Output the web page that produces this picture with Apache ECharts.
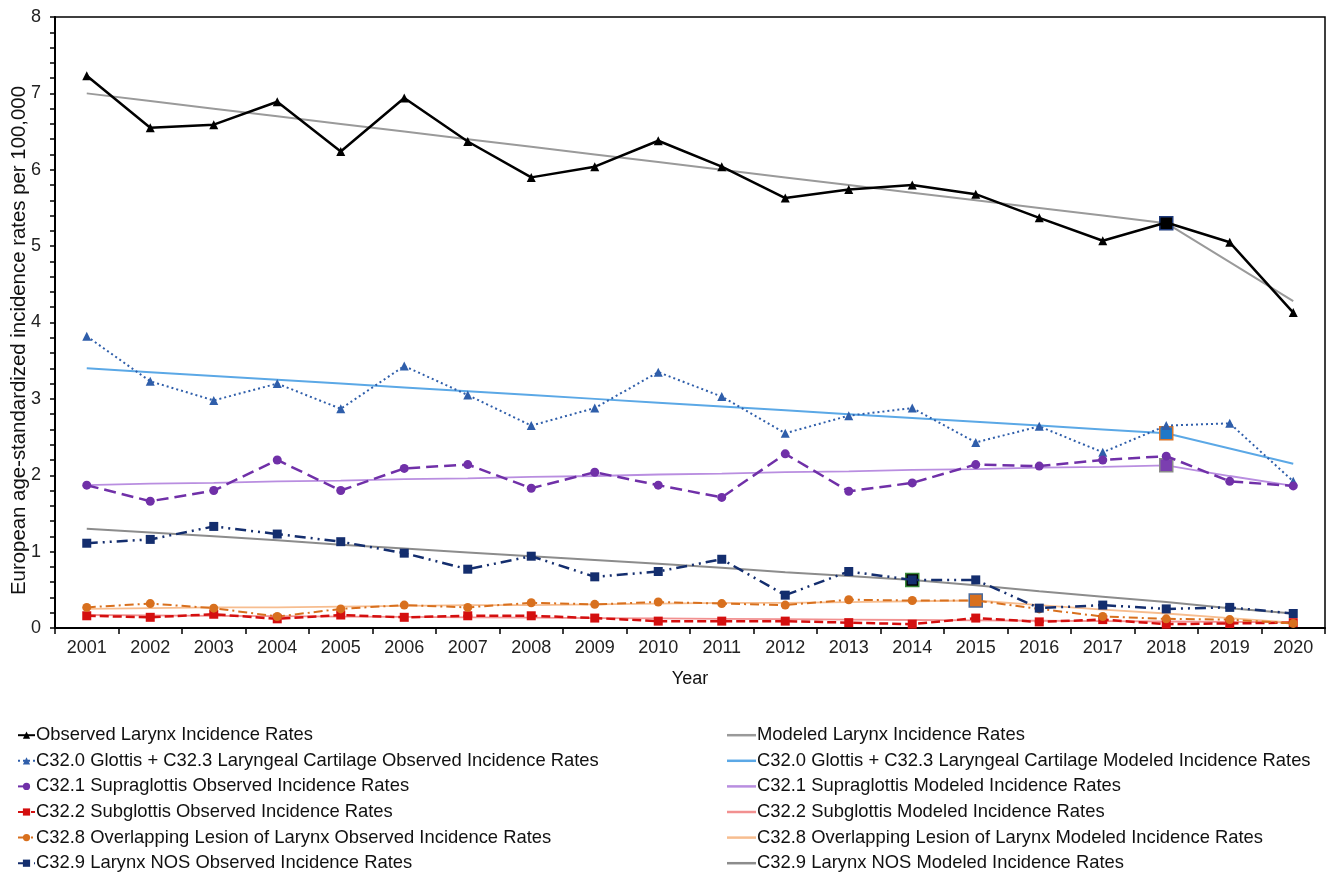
<!DOCTYPE html>
<html lang="en">
<head>
  <meta charset="UTF-8">
  <title>Larynx Incidence Rates</title>
  <script src="https://cdn.jsdelivr.net/npm/echarts@6.0.0/dist/echarts.min.js"></script>
  <style>
    html, body { margin: 0; padding: 0; background: #fff; }
    #chart { width: 1331px; height: 881px; }
  </style>
</head>
<body>
  <div id="chart"></div>
  <script>
    // categories
    var years = ['2001','2002','2003','2004','2005','2006','2007','2008','2009','2010',
                 '2011','2012','2013','2014','2015','2016','2017','2018','2019','2020'];

    // observed rates
    var larynxObs   = [7.23, 6.55, 6.59, 6.89, 6.24, 6.94, 6.37, 5.90, 6.04, 6.38, 6.04, 5.63, 5.74, 5.80, 5.68, 5.37, 5.07, 5.31, 5.05, 4.13];
    var glottisObs  = [3.82, 3.23, 2.98, 3.20, 2.87, 3.43, 3.05, 2.65, 2.88, 3.35, 3.03, 2.55, 2.78, 2.88, 2.43, 2.64, 2.30, 2.65, 2.68, 1.92];
    var supraObs    = [1.87, 1.66, 1.80, 2.20, 1.80, 2.09, 2.14, 1.83, 2.04, 1.87, 1.71, 2.28, 1.79, 1.90, 2.14, 2.12, 2.20, 2.25, 1.92, 1.86];
    var subObs      = [0.16, 0.14, 0.18, 0.12, 0.17, 0.14, 0.16, 0.16, 0.13, 0.09, 0.09, 0.09, 0.07, 0.05, 0.13, 0.08, 0.11, 0.05, 0.06, 0.07];
    var overlapObs  = [0.27, 0.32, 0.26, 0.15, 0.25, 0.30, 0.27, 0.33, 0.31, 0.34, 0.32, 0.30, 0.37, 0.36, 0.36, 0.25, 0.15, 0.12, 0.11, 0.06];
    var nosObs      = [1.11, 1.16, 1.33, 1.23, 1.13, 0.98, 0.77, 0.94, 0.67, 0.74, 0.90, 0.43, 0.74, 0.63, 0.63, 0.26, 0.30, 0.25, 0.27, 0.19];

    // modeled (joinpoint) rates
    var larynxMod   = [7.00, 6.90, 6.80, 6.70, 6.60, 6.50, 6.40, 6.30, 6.20, 6.10, 6.00, 5.90, 5.80, 5.70, 5.60, 5.50, 5.40, 5.30, 4.79, 4.28];
    var glottisMod  = [3.40, 3.35, 3.30, 3.25, 3.20, 3.15, 3.10, 3.05, 3.00, 2.95, 2.90, 2.85, 2.80, 2.75, 2.70, 2.65, 2.60, 2.55, 2.35, 2.15];
    var supraMod    = [1.87, 1.89, 1.90, 1.92, 1.93, 1.95, 1.96, 1.98, 1.99, 2.01, 2.02, 2.04, 2.05, 2.07, 2.08, 2.10, 2.11, 2.13, 1.99, 1.86];
    var subMod      = [0.17, 0.165, 0.16, 0.155, 0.15, 0.145, 0.14, 0.135, 0.13, 0.125, 0.12, 0.115, 0.11, 0.105, 0.10, 0.095, 0.09, 0.085, 0.08, 0.075];
    var overlapMod  = [0.25, 0.26, 0.27, 0.27, 0.28, 0.29, 0.30, 0.30, 0.31, 0.32, 0.33, 0.33, 0.34, 0.35, 0.36, 0.30, 0.24, 0.19, 0.13, 0.07];
    var nosMod      = [1.30, 1.25, 1.20, 1.15, 1.09, 1.04, 0.99, 0.94, 0.89, 0.84, 0.79, 0.73, 0.68, 0.63, 0.56, 0.48, 0.41, 0.34, 0.26, 0.19];

    // joinpoint years (marked with a square on the modeled line)
    var larynxJoin  = ['2018'];
    var glottisJoin = ['2018'];
    var supraJoin   = ['2018'];
    var overlapJoin = ['2015'];
    var nosJoin     = ['2014'];

    var obsNames = [
      'Observed Larynx Incidence Rates',
      'C32.0 Glottis + C32.3 Laryngeal Cartilage Observed Incidence Rates',
      'C32.1 Supraglottis Observed Incidence Rates',
      'C32.2 Subglottis Observed Incidence Rates',
      'C32.8 Overlapping Lesion of Larynx Observed Incidence Rates',
      'C32.9 Larynx NOS Observed Incidence Rates'
    ];
    var modNames = [
      'Modeled Larynx Incidence Rates',
      'C32.0 Glottis + C32.3 Laryngeal Cartilage Modeled Incidence Rates',
      'C32.1 Supraglottis Modeled Incidence Rates',
      'C32.2 Subglottis Modeled Incidence Rates',
      'C32.8 Overlapping Lesion of Larynx Modeled Incidence Rates',
      'C32.9 Larynx NOS Modeled Incidence Rates'
    ];

    var FONT = "'Liberation Sans', Arial, sans-serif";

    function observed(name, data, color, dash, symbol, size, width) {
      return {
        name: name, type: 'line', data: data,
        symbol: symbol, symbolSize: size,
        itemStyle: { color: color },
        lineStyle: { color: color, width: width, type: dash },
        emphasis: { disabled: true },
        z: 3
      };
    }

    function modeled(name, data, color, width, joins, fill, border) {
      var pts = data.map(function (v, i) {
        if (joins.indexOf(years[i]) >= 0) {
          return { value: v, symbol: 'rect', symbolSize: 13,
                   itemStyle: { color: fill, borderColor: border, borderWidth: 1.5 } };
        }
        return v;
      });
      return {
        name: name, type: 'line', data: pts,
        symbol: 'none', showSymbol: true,
        itemStyle: { color: color },
        lineStyle: { color: color, width: width },
        emphasis: { disabled: true },
        z: 2
      };
    }

    var chart = echarts.init(document.getElementById('chart'));
    chart.setOption({
      backgroundColor: '#fff',
      animation: false,
      textStyle: { fontFamily: FONT },
      grid: {
        left: 55, right: 6, top: 17, bottom: 253,
        outerBoundsMode: 'none', containLabel: false,
        show: true, borderColor: '#000', borderWidth: 1.5
      },
      legend: [{
        data: obsNames,
        orient: 'vertical', left: 17, top: 726, padding: 0,
        itemWidth: 17, itemHeight: 9, itemGap: 7.2,
        textStyle: { fontFamily: FONT, fontSize: 18.4, color: '#111', lineHeight: 18.4, padding: [0, 0, 0, -4] },
        selectedMode: false
      }, {
        data: modNames.map(function (n) { return { name: n, icon: 'rect' }; }),
        orient: 'vertical', left: 727, top: 726, padding: 0,
        itemWidth: 29, itemHeight: 2.5, itemGap: 7.2,
        textStyle: { fontFamily: FONT, fontSize: 18.4, color: '#111', lineHeight: 18.4, padding: [0, 0, 0, -4] },
        selectedMode: false
      }],
      xAxis: {
        type: 'category', data: years, boundaryGap: true,
        name: 'Year', nameLocation: 'middle', nameGap: 42,
        nameTextStyle: { fontFamily: FONT, fontSize: 18, color: '#111' },
        axisLine: { lineStyle: { color: '#000', width: 2 } },
        axisTick: { show: true, length: 6, lineStyle: { color: '#000', width: 1.5 } },
        axisLabel: { fontFamily: FONT, fontSize: 18, color: '#222', margin: 11 },
        splitLine: { show: false }
      },
      yAxis: {
        type: 'value', min: 0, max: 8, interval: 1,
        name: 'European age-standardized incidence rates per 100,000',
        nameLocation: 'middle', nameGap: 26, nameMoveOverlap: false,
        nameTextStyle: { fontFamily: FONT, fontSize: 20.4, color: '#111', padding: [0, 36, 0, 0] },
        axisLine: { show: true, lineStyle: { color: '#000', width: 2 } },
        axisTick: { show: true, length: 5, lineStyle: { color: '#000', width: 1.5 } },
        minorTick: { show: true, splitNumber: 5, length: 5, lineStyle: { color: '#000', width: 1.5 } },
        axisLabel: { fontFamily: FONT, fontSize: 18, color: '#222', margin: 14 },
        splitLine: { show: false }
      },
      series: [
        modeled(modNames[0], larynxMod, '#9a9a9a', 2, larynxJoin, '#000', '#1f3a7a'),
        modeled(modNames[1], glottisMod, '#5ba8e6', 2, glottisJoin, '#1f78c8', '#d8752a'),
        modeled(modNames[2], supraMod, '#b98ee0', 1.8, supraJoin, '#7b3fb0', '#8a8a8a'),
        modeled(modNames[3], subMod, '#f29090', 1.8, [], '#f29090', '#f29090'),
        modeled(modNames[4], overlapMod, '#f7bd8f', 1.8, overlapJoin, '#d87020', '#4a6a9a'),
        modeled(modNames[5], nosMod, '#8c8c8c', 2, nosJoin, '#000', '#3a8a3a'),
        observed(obsNames[0], larynxObs, '#000', 'solid', 'triangle', 9, 2.5),
        observed(obsNames[1], glottisObs, '#2f5eaa', [2, 3], 'triangle', 9, 2),
        observed(obsNames[2], supraObs, '#7030a8', [12, 6], 'circle', 9, 2.5),
        observed(obsNames[3], subObs, '#d40f0f', [9, 4], 'rect', 9, 2.5),
        observed(obsNames[4], overlapObs, '#d8701e', [9, 4, 2, 4], 'circle', 9, 2),
        observed(obsNames[5], nosObs, '#142e6e', [11, 5, 2, 5, 2, 5], 'rect', 9, 2.5)
      ]
    });
  </script>
</body>
</html>
